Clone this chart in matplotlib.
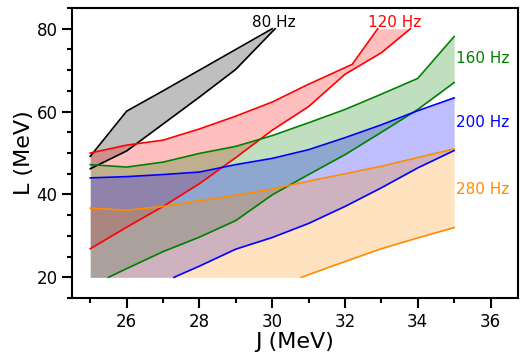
import matplotlib
matplotlib.use("Agg")
import matplotlib.pyplot as plt
import numpy as np
from matplotlib.ticker import MultipleLocator

# 80 Hz
j80_up = [25, 26, 27, 28, 29, 30]
l80_up = [49.2, 60.1, 65, 70, 75, 80]
j80_lo = [25, 26, 27, 28, 29, 30.08]
l80_lo = [46.2, 50.5, 57, 63.5, 70.2, 80]

# 120 Hz
j120_up = [25, 26, 27, 28, 29, 30, 31, 32.2, 32.9]
l120_up = [50.0, 51.9, 53.1, 55.8, 58.9, 62.3, 66.6, 71.4, 80]
j120_lo = [25, 26, 27, 28, 29, 30, 31, 32, 33, 33.8]
l120_lo = [26.9, 32.1, 37.1, 42.6, 48.9, 55.5, 61.2, 69.0, 74.2, 80]

# 160 Hz
j160_up = [25, 26, 27, 28, 29, 30, 31, 32, 33, 34, 35]
l160_up = [47.2, 46.6, 47.8, 49.9, 51.6, 54.2, 57.3, 60.5, 64.2, 68.0, 78.1]
j160_lo = [25.5, 26, 27, 28, 29, 30, 31, 32, 33, 34, 35]
l160_lo = [20.0, 22.1, 26.2, 29.7, 33.7, 39.9, 44.8, 49.6, 55.0, 60.5, 67.0]

# 200 Hz
j200_up = [25, 26, 27, 28, 29, 30, 31, 32, 33, 34, 35]
l200_up = [44.0, 44.3, 44.8, 45.4, 47.2, 48.7, 50.8, 53.7, 56.8, 60.2, 63.3]
j200_lo = [27.3, 28, 29, 30, 31, 32, 33, 34, 35]
l200_lo = [20.0, 22.7, 26.8, 29.6, 33.0, 37.1, 41.6, 46.4, 50.6]

# 280 Hz
j280_up = [25, 26, 27, 28, 29, 30, 31, 32, 33, 34, 35]
l280_up = [36.7, 36.2, 37.1, 38.5, 39.8, 41.3, 43.2, 45.0, 46.8, 48.9, 51.0]
j280_lo = [30.8, 32, 33, 34, 35]
l280_lo = [20.0, 23.8, 26.9, 29.5, 32.0]

bands = [
    ("80 Hz", "black", j80_up, l80_up, j80_lo, l80_lo, (29.45, 81.6)),
    ("120 Hz", "red", j120_up, l120_up, j120_lo, l120_lo, (32.63, 81.6)),
    ("160 Hz", "green", j160_up, l160_up, j160_lo, l160_lo, (35.05, 72.8)),
    ("200 Hz", "blue", j200_up, l200_up, j200_lo, l200_lo, (35.05, 57.3)),
    ("280 Hz", "darkorange", j280_up, l280_up, j280_lo, l280_lo, (35.05, 41.1)),
]

fig = plt.figure(figsize=(5.30, 3.63), dpi=100)
ax = fig.add_axes([0.136, 0.179, 0.841, 0.799])

for name, col, ju, lu, jl, ll, pos in bands:
    ju = np.array(ju, float); lu = np.array(lu, float)
    jl = np.array(jl, float); ll = np.array(ll, float)
    # common grid for fill
    grid = np.union1d(ju, jl)
    grid = grid[(grid >= ju.min()) & (grid <= ju.max())]
    up = np.interp(grid, ju, lu)
    lo = np.interp(grid, jl, ll, left=20.0)
    lo = np.maximum(lo, 20.0)
    if name == "80 Hz":
        grid = np.union1d(ju, jl)
        up = np.interp(grid, ju, lu, right=80)
        lo = np.interp(grid, jl, ll)
    if name == "120 Hz":
        grid = np.union1d(ju, jl)
        up = np.interp(grid, ju, lu, right=80)
        lo = np.interp(grid, jl, ll)
    ax.fill_between(grid, lo, up, color=col, alpha=0.25, lw=0)
    ax.plot(ju, lu, color=col, lw=1.2)
    ax.plot(jl, ll, color=col, lw=1.2)
    ax.text(pos[0], pos[1], name, color=col, fontsize=11, ha="left", va="center")

ax.set_xlim(24.5, 36.75)
ax.set_ylim(15, 85)
ax.xaxis.set_major_locator(MultipleLocator(2))
ax.xaxis.set_minor_locator(MultipleLocator(1))
ax.yaxis.set_major_locator(MultipleLocator(20))
ax.yaxis.set_minor_locator(MultipleLocator(5))
ax.set_xticks([26, 28, 30, 32, 34, 36])
ax.set_yticks([20, 40, 60, 80])
ax.tick_params(which="major", length=7, width=1.5, labelsize=12)
ax.tick_params(which="minor", length=3.5, width=1.5)
for s in ax.spines.values():
    s.set_linewidth(1.5)
ax.set_xlabel("J (MeV)", fontsize=16, labelpad=1)
ax.set_ylabel("L (MeV)", fontsize=16, labelpad=2)

fig.savefig("out.png", dpi=100)
